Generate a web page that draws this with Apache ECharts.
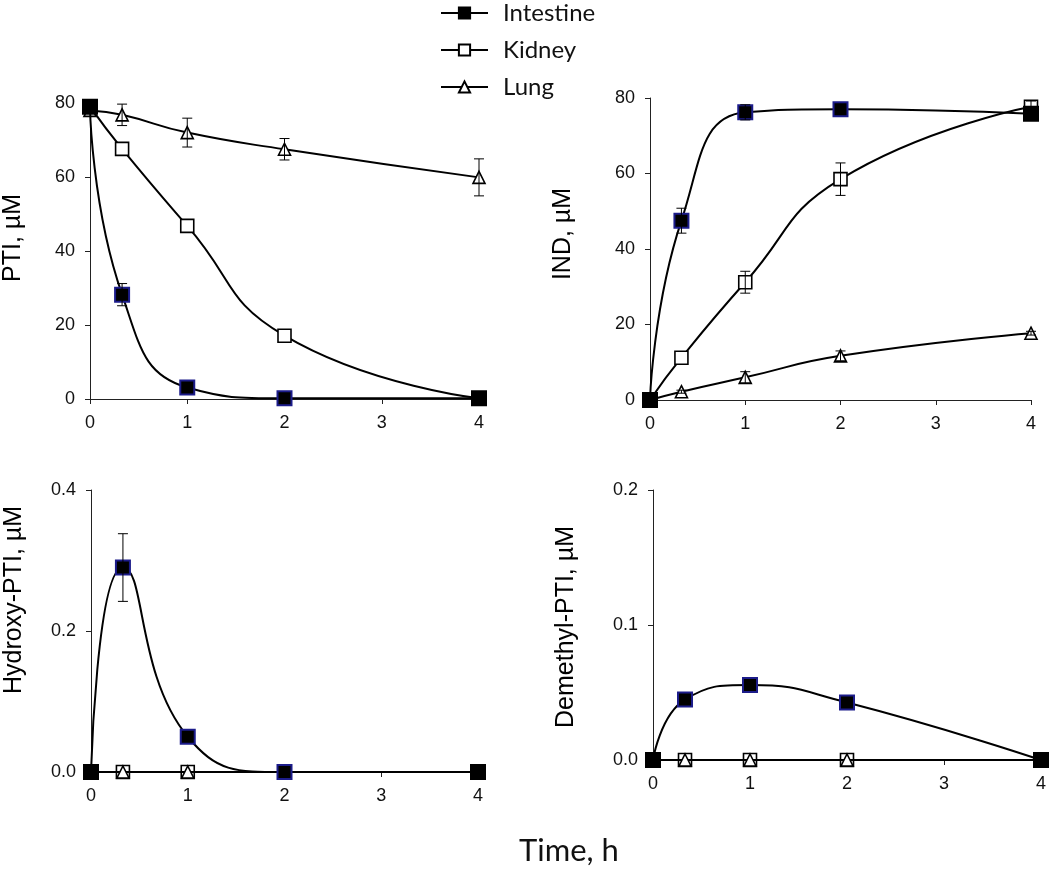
<!DOCTYPE html>
<html><head><meta charset="utf-8">
<script src="https://cdn.jsdelivr.net/npm/echarts@6/dist/echarts.min.js"></script>
<style>html,body{margin:0;padding:0;background:#fff}#c{width:1050px;height:872px}</style>
</head><body><div id="c"></div>
<script>
// ---------- data ----------
const times = [0, 0.33, 1, 2, 4];
const seriesNames = ['Intestine', 'Kidney', 'Lung'];
const yTitles = ['PTI, µM', 'IND, µM', 'Hydroxy-PTI, µM', 'Demethyl-PTI, µM'];
const xTitle = 'Time, h';

// PTI
const ptiIntestine = [79, 28.2, 3.1, 0.2, 0.2];
const ptiIntestineErr = [0, 3.0, 0.5, 0, 0];
const ptiKidney = [79, 67.6, 46.8, 17.1, 0.2];
const ptiKidneyErr = [0, 0, 0, 0, 0];
const ptiLung = [78, 76.8, 72.0, 67.5, 59.9];
const ptiLungErr = [0, 2.9, 3.9, 2.9, 5.0];
// IND
const indIntestine = [0, 47.5, 76.2, 77.0, 75.8];
const indIntestineErr = [0, 3.3, 2.0, 0.5, 1.0];
const indKidney = [0, 11.2, 31.2, 58.5, 77.7];
const indKidneyErr = [0, 0, 2.9, 4.3, 1.5];
const indLung = [0, 2.2, 6.0, 11.7, 17.7];
const indLungErr = [0, 0.4, 1.5, 1.3, 0.5];
// Hydroxy-PTI
const hydIntestine = [0, 0.29, 0.05, 0, 0];
const hydIntestineErr = [0, 0.048, 0, 0, 0];
const hydKidney = [0, 0, 0, 0, 0];
const hydLung = [0, 0, 0, 0, 0];
// Demethyl-PTI
const demIntestine = [0, 0.0448, 0.0555, 0.0426, 0];
const demKidney = [0, 0, 0, 0, 0];
const demLung = [0, 0, 0, 0, 0];

const yMax = [80, 80, 0.4, 0.2];
const yInterval = [20, 20, 0.2, 0.1];
const yDecimals = [0, 0, 1, 1];

// ---------- layout ----------
const panels = [
  { grid: { left: 89, top: 103, width: 390, height: 296 }, vals: [ptiIntestine, ptiKidney, ptiLung], errs: [ptiIntestineErr, ptiKidneyErr, ptiLungErr], nameGap: 64, pad: [0, 0, 0, 26] },
  { grid: { left: 650, top: 98, width: 381, height: 302 }, vals: [indIntestine, indKidney, indLung], errs: [indIntestineErr, indKidneyErr, indLungErr], nameGap: 74, pad: [0, 0, 0, 30] },
  { grid: { left: 91, top: 490, width: 387, height: 282 }, vals: [hydIntestine, hydKidney, hydLung], errs: [hydIntestineErr, null, null], nameGap: 64, pad: [0, 0, 0, 62] },
  { grid: { left: 653, top: 490, width: 388, height: 270 }, vals: [demIntestine, demKidney, demLung], errs: [null, null, null], nameGap: 74, pad: [0, 4, 0, 0] }
];

const tickFont = { fontFamily: 'Liberation Sans', fontSize: 18, color: '#111' };
const navy = '#1c1c8a';

function errRender(params, api) {
  const x = api.value(0), lo = api.value(1), hi = api.value(2);
  const a = api.coord([x, hi]);
  const b = api.coord([x, lo]);
  const cap = 5;
  const style = { stroke: '#000', lineWidth: 1 };
  return {
    type: 'group',
    children: [
      { type: 'line', shape: { x1: a[0], y1: a[1], x2: b[0], y2: b[1] }, style },
      { type: 'line', shape: { x1: a[0] - cap, y1: a[1], x2: a[0] + cap, y2: a[1] }, style },
      { type: 'line', shape: { x1: b[0] - cap, y1: b[1], x2: b[0] + cap, y2: b[1] }, style }
    ]
  };
}

const grids = [], xAxes = [], yAxes = [], series = [];
panels.forEach((p, k) => {
  grids.push(p.grid);
  xAxes.push({
    type: 'value', gridIndex: k, min: 0, max: 4, interval: 1,
    axisLine: { lineStyle: { color: '#222', width: 1 } },
    axisTick: { show: true, length: 5, lineStyle: { color: '#222' } },
    axisLabel: Object.assign({ margin: 15 }, tickFont),
    splitLine: { show: false }
  });
  yAxes.push({
    type: 'value', gridIndex: k, min: 0, max: yMax[k], interval: yInterval[k],
    name: yTitles[k], nameLocation: 'middle', nameGap: p.nameGap,
    nameTextStyle: { fontFamily: 'Liberation Sans', fontSize: 25, color: '#000', padding: p.pad },
    axisLine: { show: true, lineStyle: { color: '#222', width: 1 } },
    axisTick: { show: true, length: 5, lineStyle: { color: '#222' } },
    axisLabel: Object.assign({ margin: 15, formatter: v => v.toFixed(yDecimals[k]) }, tickFont),
    splitLine: { show: false }
  });
  // draw order: Kidney, Lung, Intestine (Intestine on top)
  [1, 2, 0].forEach((s, order) => {
    const vals = p.vals[s];
    let data;
    if (s === 0) {
      data = times.map((t, i) => ({
        value: [t, vals[i]],
        itemStyle: { borderColor: (i > 0 && i < times.length - 1) ? navy : '#000' }
      }));
    } else {
      data = times.map((t, i) => [t, vals[i]]);
    }
    series.push({
      type: 'line', name: seriesNames[s], xAxisIndex: k, yAxisIndex: k,
      data, smooth: true, z: 3 + order,
      symbol: s === 2 ? 'triangle' : 'rect',
      symbolSize: s === 0 ? 14 : (s === 2 ? 12 : 13),
      lineStyle: { color: '#000', width: 2 },
      itemStyle: s === 0
        ? { color: '#000', borderColor: '#000', borderWidth: 2 }
        : { color: '#fff', borderColor: '#000', borderWidth: 1.6 },
      emphasis: { disabled: true },
      animation: false
    });
    const e = p.errs[s];
    if (e) {
      const ed = [];
      times.forEach((t, i) => { if (e[i] > 0) ed.push([t, vals[i] - e[i], vals[i] + e[i]]); });
      if (ed.length) {
        series.push({
          type: 'custom', name: seriesNames[s], xAxisIndex: k, yAxisIndex: k,
          renderItem: errRender, data: ed, encode: { x: 0, y: [1, 2] }, z: 10,
          animation: false, silent: true
        });
      }
    }
  });
});

const chart = echarts.init(document.getElementById('c'), null, { renderer: 'canvas' });
chart.setOption({
  backgroundColor: '#fff',
  animation: false,
  legend: {
    orient: 'vertical', left: 435, top: -5,
    itemWidth: 47, itemHeight: 14, itemGap: 11,
    data: [
      { name: 'Intestine', itemStyle: { color: '#000', borderColor: '#000' } },
      { name: 'Kidney' },
      { name: 'Lung' }
    ],
    textStyle: { fontFamily: 'Lato', fontSize: 24, color: '#111', padding: [0, 0, 0, 10], lineHeight: 26 },
    selectedMode: false
  },
  grid: grids,
  xAxis: xAxes,
  yAxis: yAxes,
  series,
  graphic: [{
    type: 'text', x: 569, y: 851,
    style: { text: xTitle, fontFamily: 'Lato', fontSize: 31, fill: '#111', textAlign: 'center', textVerticalAlign: 'middle' }
  }]
});
</script>
</body></html>
